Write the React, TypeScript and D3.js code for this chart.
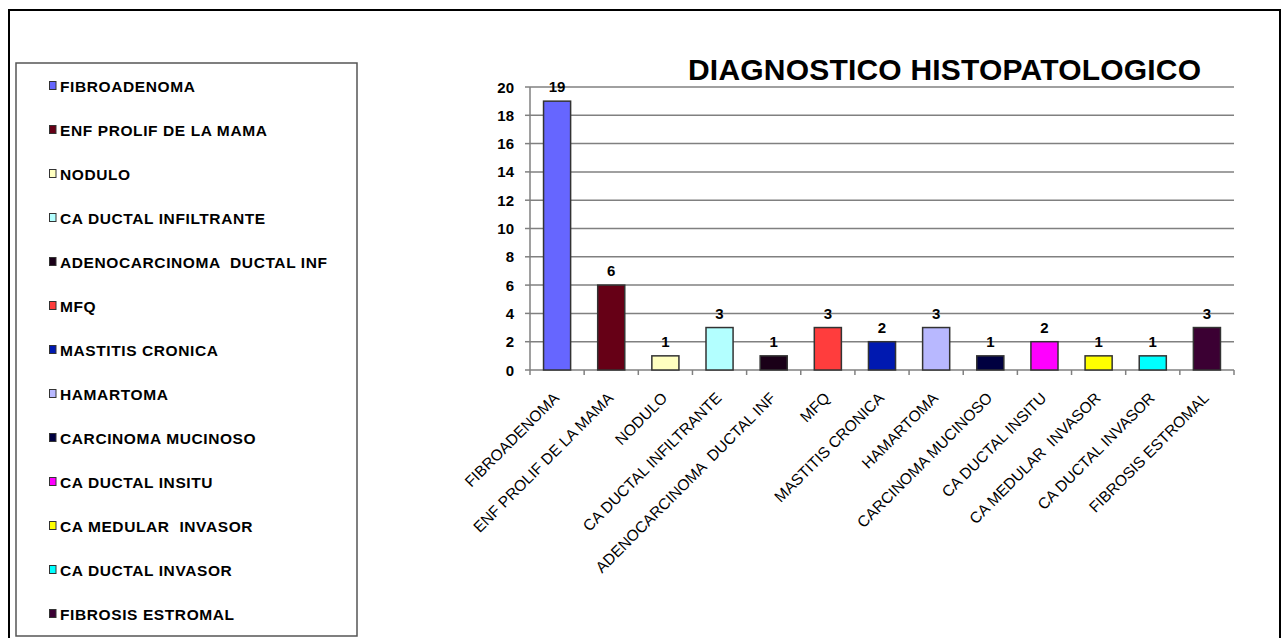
import React from "react";
import * as d3 from "d3";

const categories = [
  "FIBROADENOMA",
  "ENF PROLIF DE LA MAMA",
  "NODULO",
  "CA DUCTAL INFILTRANTE",
  "ADENOCARCINOMA  DUCTAL INF",
  "MFQ",
  "MASTITIS CRONICA",
  "HAMARTOMA",
  "CARCINOMA MUCINOSO",
  "CA DUCTAL INSITU",
  "CA MEDULAR  INVASOR",
  "CA DUCTAL INVASOR",
  "FIBROSIS ESTROMAL",
];
const values = [19, 6, 1, 3, 1, 3, 2, 3, 1, 2, 1, 1, 3];
const colors = [
  "#6666ff",
  "#660016",
  "#ffffc0",
  "#b3ffff",
  "#1a0018",
  "#ff3d3d",
  "#0019b0",
  "#b8b8ff",
  "#000040",
  "#ff00ff",
  "#ffff00",
  "#00ffff",
  "#3b0033",
];
const yTicks = [0, 2, 4, 6, 8, 10, 12, 14, 16, 18, 20];
const title = "DIAGNOSTICO HISTOPATOLOGICO";

const FONT = "'Liberation Sans', Arial, sans-serif";

export default function App() {
  const W = 1282;
  const H = 638;
  const x = d3
    .scaleBand<string>()
    .domain(categories)
    .range([530, 1234])
    .paddingInner(0.5)
    .paddingOuter(0.25);
  const y = d3.scaleLinear().domain([0, 20]).range([370, 87]);
  const step = x.step();
  const x0 = 530;
  const boundaries = d3.range(categories.length + 1).map((i) => x0 + i * step);

  return (
    <svg
      width={W}
      height={H}
      style={{ position: "absolute", left: 0, top: 0, fontFamily: FONT }}
    >
      <rect x={0} y={0} width={W} height={H} fill="#fff" />
      {/* outer frame */}
      <rect x={9} y={10} width={1271} height={640} fill="none" stroke="#000" strokeWidth={2} />
      {/* legend box */}
      <rect x={16} y={63} width={341} height={573} fill="#fff" stroke="#555" strokeWidth={1.5} />
      {categories.map((lab, i) => {
        const cy = 86 + i * 44;
        return (
          <g key={lab}>
            <rect x={49.5} y={cy - 4.5} width={6.5} height={8} fill={colors[i]} stroke="#333" strokeWidth={1} />
            <text
              x={60}
              y={cy + 5.5}
              fontSize={15.5}
              fontWeight="bold"
              letterSpacing={0.6}
              fill="#000"
              style={{ whiteSpace: "pre" }}
            >
              {lab}
            </text>
          </g>
        );
      })}
      {/* title */}
      <text x={688} y={80} fontSize={30} fontWeight="bold" letterSpacing={0.2} fill="#000">
        {title}
      </text>
      {/* gridlines */}
      {yTicks.map((t) => (
        <line key={t} x1={530} x2={1234} y1={y(t)} y2={y(t)} stroke="#808080" strokeWidth={1.5} />
      ))}
      {/* y axis */}
      <line x1={530} x2={530} y1={y(20)} y2={y(0)} stroke="#808080" strokeWidth={1.5} />
      {yTicks.map((t) => (
        <g key={"yt" + t}>
          <line x1={525} x2={530} y1={y(t)} y2={y(t)} stroke="#808080" strokeWidth={1.5} />
          <text x={514} y={y(t) + 5.5} textAnchor="end" fontSize={15} fontWeight="bold" fill="#000">
            {t}
          </text>
        </g>
      ))}
      {/* x axis ticks */}
      {boundaries.map((b, i) => (
        <line key={"xt" + i} x1={b} x2={b} y1={y(0)} y2={y(0) + 5} stroke="#808080" strokeWidth={1.5} />
      ))}
      {/* bars */}
      {categories.map((c, i) => (
        <rect
          key={c}
          x={x(c)!}
          y={y(values[i])}
          width={x.bandwidth()}
          height={y(0) - y(values[i])}
          fill={colors[i]}
          stroke="#333"
          strokeWidth={1.5}
        />
      ))}
      {/* value labels */}
      {categories.map((c, i) => (
        <text
          key={"v" + c}
          x={x(c)! + x.bandwidth() / 2}
          y={y(values[i]) - 9}
          textAnchor="middle"
          fontSize={15}
          fontWeight="bold"
          fill="#000"
        >
          {values[i]}
        </text>
      ))}
      {/* x labels */}
      {categories.map((c, i) => {
        const cx = x(c)! + x.bandwidth() / 2 + 3;
        const cy = 399;
        return (
          <text
            key={"l" + c}
            transform={`translate(${cx},${cy}) rotate(-45)`}
            textAnchor="end"
            fontSize={15.5}
            fill="#000"
            style={{ whiteSpace: "pre" }}
          >
            {c}
          </text>
        );
      })}
    </svg>
  );
}
